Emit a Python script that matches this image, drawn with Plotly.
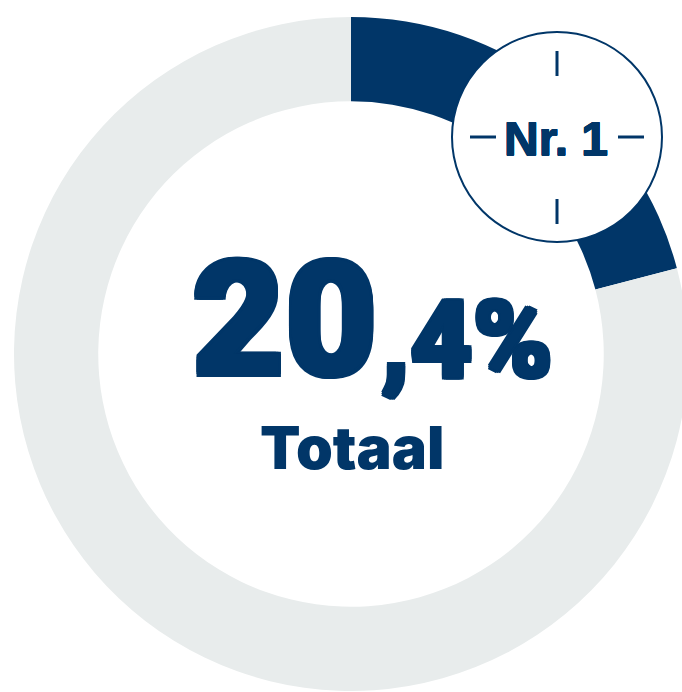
import plotly.graph_objects as go

labels = ["Nr. 1", "Overig"]
values = [20.9, 79.1]
colors = ["#013668", "#E8ECEC"]
main_text = "20"
sub_text = ",4%"
caption = "Totaal"
badge = "Nr. 1"

W, H = 702, 692
NAVY = colors[0]

def px(x):
    return x / W

def py(y):
    return 1 - y / H

def thick(r):
    return f"{r}px 0 0 {NAVY},-{r}px 0 0 {NAVY},0 {r}px 0 {NAVY},0 -{r}px 0 {NAVY},{r}px {r}px 0 {NAVY},-{r}px {r}px 0 {NAVY},{r}px -{r}px 0 {NAVY},-{r}px -{r}px 0 {NAVY}"

fig = go.Figure(go.Pie(
    labels=labels, values=values, hole=0.75, sort=False, direction="clockwise", rotation=0,
    marker=dict(colors=colors, line=dict(width=0)), textinfo="none", hoverinfo="skip",
    showlegend=False,
    domain=dict(x=[px(14), px(688)], y=[py(691), py(17)]),
))

shapes = [dict(type="circle", xref="paper", yref="paper", x0=px(452), x1=px(662), y0=py(242), y1=py(32),
               fillcolor="white", line=dict(color=NAVY, width=2), layer="above")]
for (x0, y0, x1, y1) in [(557, 51, 557, 76), (557, 199, 557, 224), (470, 137, 496, 137), (618, 137, 644, 137)]:
    shapes.append(dict(type="line", xref="paper", yref="paper", x0=px(x0), x1=px(x1), y0=py(y0), y1=py(y1),
                       line=dict(color=NAVY, width=3), layer="above"))

def note(text, x, y, size, family="Roboto", weight=900, anchor="center", shadow=None):
    font = dict(family=family, size=size, color=NAVY, weight=weight)
    if shadow:
        font["shadow"] = thick(shadow)
    return dict(text=text, xref="paper", yref="paper", x=px(x), y=py(y), showarrow=False,
                xanchor=anchor, yanchor="middle", font=font)

annotations = [
    note(main_text, 284, 319, 160, shadow=2.5),
    note(sub_text, 379, 340, 108, anchor="left", shadow=2),
    note(caption, 352, 447, 59, family="Inter"),
    note(badge, 556, 138, 48, family="Liberation Sans", weight=700, shadow=0.5),
]

fig.update_layout(width=W, height=H, margin=dict(l=0, r=0, t=0, b=0), autosize=False,
                  paper_bgcolor="white", plot_bgcolor="white", shapes=shapes, annotations=annotations)

fig.write_html("out.html", config=dict(displayModeBar=False),
               post_script="document.body.style.margin='0';document.documentElement.style.overflow='hidden';document.body.style.overflow='hidden';")
